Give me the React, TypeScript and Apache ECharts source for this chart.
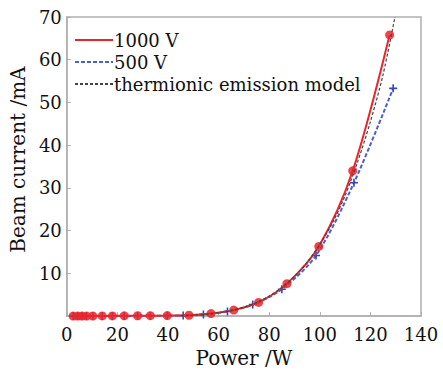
import React, { useEffect, useRef } from "react";
import * as echarts from "echarts";

const xTicks = [0, 20, 40, 60, 80, 100, 120, 140];
const yTicks = [10, 20, 30, 40, 50, 60, 70];

const redX = [2.5, 4.3, 6, 7.8, 10.3, 14, 18, 22.7, 28, 33, 39.7, 48.3, 57, 66, 75.8, 87, 99.6, 113, 127.6];
const redY = [0, 0, 0, 0, 0.02, 0.03, 0.05, 0.06, 0.08, 0.1, 0.12, 0.2, 0.6, 1.4, 3.2, 7.6, 16.3, 34, 65.8];

const blueX = [2.5, 4.3, 6, 7.8, 10.3, 14, 18, 22.7, 28, 33, 39.7, 46, 54, 63.5, 73.5, 85, 98.5, 113.5, 129];
const blueY = [0, 0, 0, 0, 0, 0.02, 0.03, 0.04, 0.06, 0.08, 0.1, 0.15, 0.4, 1.1, 2.7, 6.3, 14.2, 31.2, 53.3];

const modelX = [45, 50, 55, 60, 65, 70, 75, 80, 85, 90, 95, 100, 105, 110, 115, 120, 125, 129.7];
const modelY = [0.1, 0.2, 0.4, 0.8, 1.3, 2.1, 3.2, 4.7, 6.7, 9.3, 12.6, 16.8, 21.8, 28.2, 36.2, 45.5, 56.5, 70];

const names = ["1000 V", "500 V", "thermionic emission model"];

const zip = (xs: number[], ys: number[]) => xs.map((x, i) => [x, ys[i]]);

const FONT = "DejaVu Serif";
const plus =
  "path://M4,0 L6,0 L6,4 L10,4 L10,6 L6,6 L6,10 L4,10 L4,6 L0,6 L0,4 L4,4 Z";

export default function App() {
  const ref = useRef<HTMLDivElement>(null);
  useEffect(() => {
    if (!ref.current) return;
    const chart = echarts.init(ref.current, undefined, { renderer: "svg" });
    chart.setOption({
      animation: false,
      backgroundColor: "#fff",
      textStyle: { fontFamily: FONT },
      grid: {
        left: 65,
        right: 22,
        top: 17,
        bottom: 49,
        show: true,
        borderColor: "#b0b0b0",
        borderWidth: 1.5,
      },
      legend: {
        left: 69,
        top: 26,
        orient: "vertical",
        itemWidth: 38,
        itemHeight: 10,
        itemGap: 4,
        textStyle: { fontFamily: FONT, fontSize: 18, color: "#111", padding: [0, 0, 0, -4] },
        data: names.map((n) => ({ name: n, itemStyle: { opacity: 0 } })),
      },
      xAxis: {
        type: "value",
        min: 0,
        max: 140,
        interval: 20,
        name: "Power /W",
        nameLocation: "middle",
        nameGap: 28,
        nameTextStyle: { fontFamily: FONT, fontSize: 20, color: "#111" },
        axisLine: { lineStyle: { color: "#b0b0b0", width: 1.5 } },
        axisTick: { inside: true, length: 4, lineStyle: { color: "#b0b0b0" } },
        axisLabel: {
          fontFamily: FONT,
          fontSize: 18,
          color: "#111",
          margin: 9,
          formatter: (v: number) => (xTicks.includes(v) ? String(v) : ""),
        },
        splitLine: { show: false },
      },
      yAxis: {
        type: "value",
        min: 0,
        max: 70,
        interval: 10,
        name: "Beam current /mA",
        nameLocation: "middle",
        nameGap: 31,
        nameTextStyle: { fontFamily: FONT, fontSize: 20, color: "#111", padding: [0, 0, 0, 14] },
        axisLine: { lineStyle: { color: "#b0b0b0", width: 1.5 } },
        axisTick: { inside: true, length: 4, lineStyle: { color: "#b0b0b0" } },
        axisLabel: {
          fontFamily: FONT,
          fontSize: 18,
          color: "#111",
          margin: 5,
          formatter: (v: number) => (yTicks.includes(v) ? String(v) : ""),
        },
        splitLine: { show: false },
      },
      series: [
        {
          name: names[0],
          type: "line",
          data: zip(redX, redY),
          smooth: 0.3,
          symbol: "circle",
          symbolSize: 9,
          color: "#e8262b",
          lineStyle: { width: 2, color: "#e8262b" },
          itemStyle: { color: "rgba(232,38,43,0.85)" },
          z: 3,
        },
        {
          name: names[1],
          type: "line",
          data: zip(blueX, blueY),
          smooth: 0.3,
          symbol: plus,
          symbolSize: 8,
          color: "#3b50c4",
          lineStyle: { width: 2, type: [4, 2], color: "#4a5fd0" },
          itemStyle: { color: "#3347c0" },
          z: 2,
        },
        {
          name: names[2],
          type: "line",
          data: zip(modelX, modelY),
          smooth: 0.3,
          showSymbol: false,
          symbol: "none",
          color: "#555",
          lineStyle: { width: 1.2, type: [3, 2], color: "#444" },
          z: 4,
        },
      ],
    });
    return () => chart.dispose();
  }, []);
  return (
    <div
      ref={ref}
      style={{ position: "fixed", left: 0, top: 0, width: 443, height: 373 }}
    />
  );
}
